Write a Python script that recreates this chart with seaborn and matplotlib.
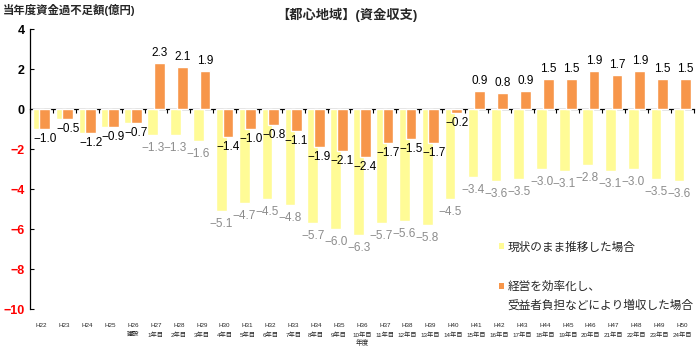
import numpy as np
import pandas as pd
import matplotlib
matplotlib.use("Agg")
import matplotlib.pyplot as plt
import seaborn as sns
from matplotlib.patches import Patch

years = ["H22", "H23", "H24", "H25", "H26", "H27", "H28", "H29", "H30", "H31",
         "H32", "H33", "H34", "H35", "H36", "H37", "H38", "H39", "H40", "H41",
         "H42", "H43", "H44", "H45", "H46", "H47", "H48", "H49", "H50"]
sublabels = ["", "", "", "", "建設", "1年目", "2年目", "3年目", "4年目", "5年目",
             "6年目", "7年目", "8年目", "9年目", "10年目", "11年目", "12年目", "13年目",
             "14年目", "15年目", "16年目", "17年目", "18年目", "19年目", "20年目",
             "21年目", "22年目", "23年目", "24年目"]
status_quo = [-1.0, -0.5, -1.2, -0.9, -0.7, -1.3, -1.3, -1.6, -5.1, -4.7,
              -4.5, -4.8, -5.7, -6.0, -6.3, -5.7, -5.6, -5.8, -4.5, -3.4,
              -3.6, -3.5, -3.0, -3.1, -2.8, -3.1, -3.0, -3.5, -3.6]
efficient = [-1.0, -0.5, -1.2, -0.9, -0.7, 2.3, 2.1, 1.9, -1.4, -1.0,
             -0.8, -1.1, -1.9, -2.1, -2.4, -1.7, -1.5, -1.7, -0.2, 0.9,
             0.8, 0.9, 1.5, 1.5, 1.9, 1.7, 1.9, 1.5, 1.5]
label_status = "現状のまま推移した場合"
label_eff_1 = "経営を効率化し、"
label_eff_2 = "受益者負担などにより増収した場合"
yticks = [4, 2, 0, -2, -4, -6, -8, -10]

YELLOW = "#FFFB96"
ORANGE = "#F7964A"
GREY = "#8C8C8C"

sns.set_theme(style="white")
plt.rcParams["font.family"] = ["Liberation Sans", "Noto Sans CJK JP", "DejaVu Sans"]
plt.rcParams["axes.unicode_minus"] = True

df = pd.DataFrame({
    "year": years * 2,
    "value": status_quo + efficient,
    "scenario": [label_status] * len(years) + [label_eff_1] * len(years),
})

fig = plt.figure(figsize=(7.0, 3.49), dpi=100)
ax = fig.add_axes([0.043, 0.1146, 0.948, 0.8023])

sns.barplot(data=df, x="year", y="value", hue="scenario", order=years,
            hue_order=[label_status, label_eff_1],
            palette=[YELLOW, ORANGE], saturation=1, width=0.58, gap=-0.62,
            errorbar=None, legend=False, ax=ax)

def fmt(v):
    return f"{v:.1f}".replace("-", "\u2212")

cont_y, cont_o = ax.containers[0], ax.containers[1]
ax.bar_label(cont_y, labels=["" if i < 5 else fmt(v) for i, v in enumerate(status_quo)],
             padding=5, color=GREY, fontsize=8.5)
ax.bar_label(cont_o, labels=[fmt(v) for v in efficient],
             padding=3, color="black", fontsize=8.5)

ax.set_xlim(-0.5, len(years) - 0.5)
ax.set_ylim(-10, 4)
ax.set_yticks(yticks)
ax.set_yticklabels([fmt(t).replace(".0", "") for t in yticks])
for lbl, t in zip(ax.get_yticklabels(), yticks):
    lbl.set_color("red" if t < 0 else "black")
    lbl.set_fontweight("bold")
    lbl.set_fontsize(9)
ax.tick_params(axis="y", direction="in", length=3, width=0.8, color="black", pad=4, left=True)

ax.set_xticks(range(len(years)))
ax.set_xticklabels([y if s == "" else f"{y}\n{s}" for y, s in zip(years, sublabels)],
                   fontsize=4.5, linespacing=1.9, va="top")
ax.tick_params(axis="x", length=0, pad=10)
ax.set_xlabel("年度", fontsize=4.8, labelpad=1.5)
ax.set_ylabel("")

for side in ["top", "right", "bottom"]:
    ax.spines[side].set_visible(False)
ax.spines["left"].set_color("black")
ax.spines["left"].set_linewidth(0.9)

sec = ax.secondary_xaxis(0, transform=ax.transData)
sec.set_xticks(np.arange(-0.5, len(years), 1.0))
sec.tick_params(axis="x", direction="out", length=3, width=0.8, color="black", labelbottom=False)
sec.spines["bottom"].set_color("black")
sec.spines["bottom"].set_linewidth(0.9)

leg1 = ax.legend(handles=[Patch(facecolor=YELLOW, edgecolor="none")], labels=[label_status],
                 loc="center left", bbox_to_anchor=(0.706, 0.22), frameon=False,
                 handlelength=0.45, handleheight=0.45, handletextpad=0.3,
                 borderpad=0, borderaxespad=0, fontsize=8.4)
ax.add_artist(leg1)
ax.legend(handles=[Patch(facecolor=ORANGE, edgecolor="none"), Patch(facecolor="none", edgecolor="none")],
          labels=[label_eff_1, label_eff_2], loc="center left", bbox_to_anchor=(0.706, 0.045),
          frameon=False, handlelength=0.45, handleheight=0.45, handletextpad=0.3,
          labelspacing=0.55, borderpad=0, borderaxespad=0, fontsize=8.4)

fig.text(0.496, 0.957, "【都心地域】(資金収支)", ha="center", va="center", fontsize=9.5, fontweight="bold")
fig.text(0.004, 0.972, "当年度資金過不足額(億円)", ha="left", va="center", fontsize=8.2, fontweight="bold")

fig.savefig("out.png", dpi=100)
